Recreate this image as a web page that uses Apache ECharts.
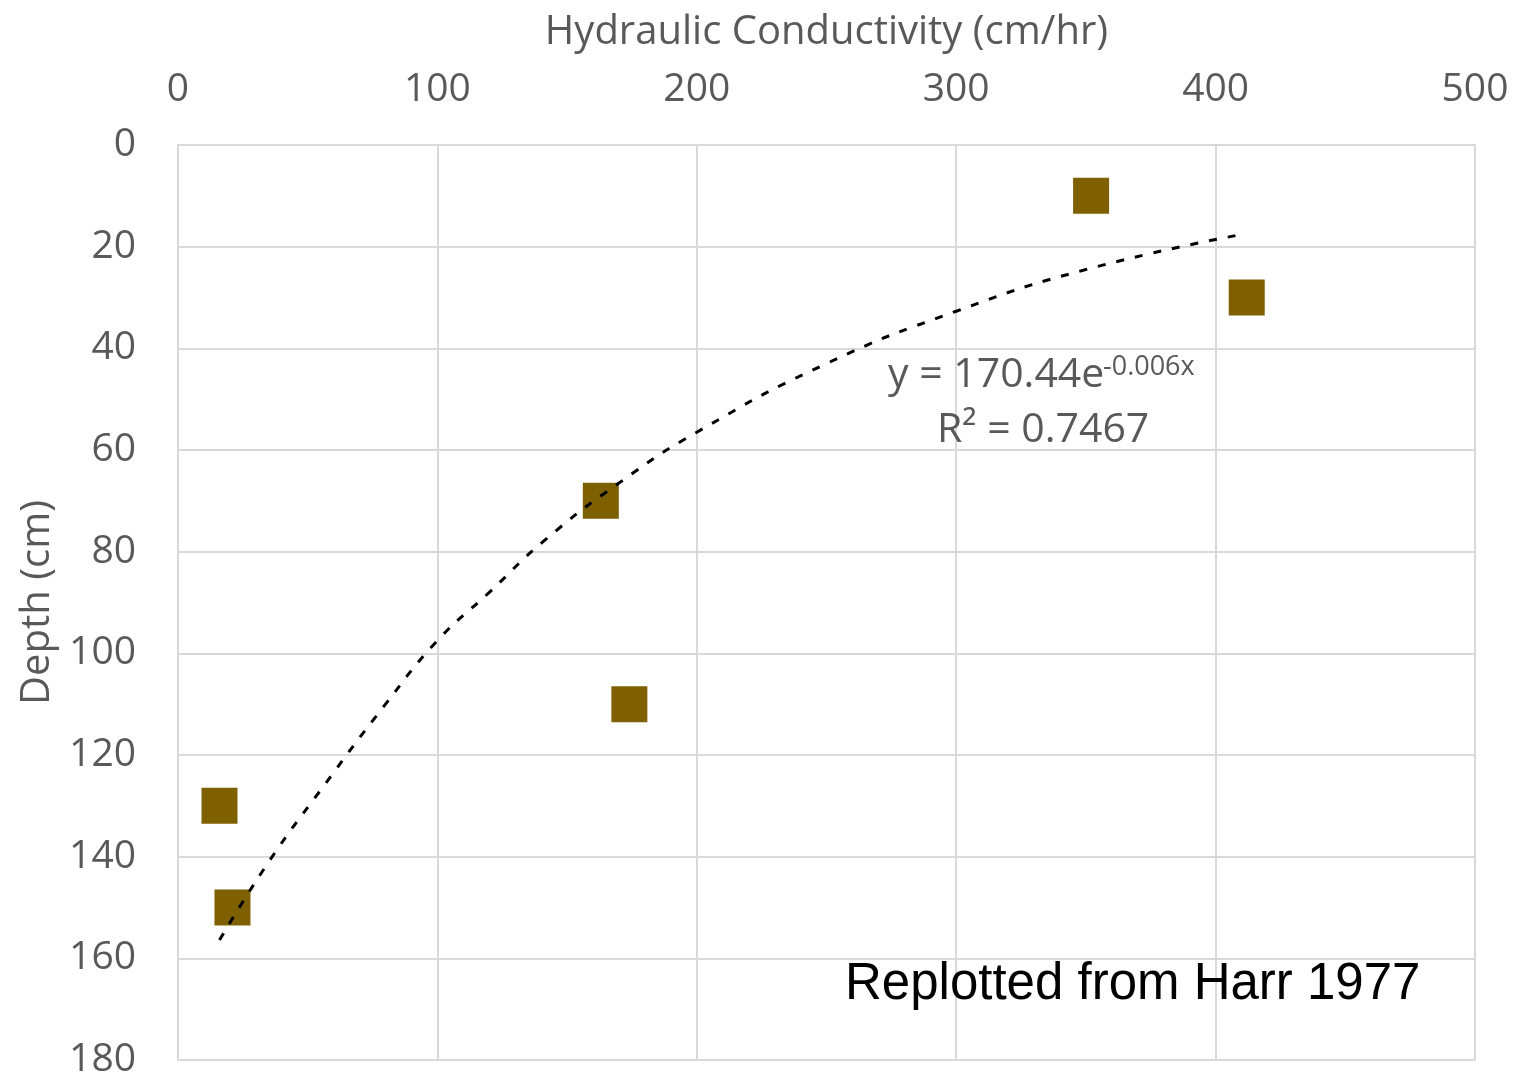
<!DOCTYPE html>
<html>
<head>
<meta charset="utf-8">
<script src="https://cdn.jsdelivr.net/npm/echarts@6/dist/echarts.min.js"></script>
<style>
  html, body { margin: 0; padding: 0; background: #fff; }
  #chart { width: 1526px; height: 1078px; }
</style>
</head>
<body>
<div id="chart"></div>
<script>
// measured points (conductivity cm/hr, depth cm)
const conductivity = [352, 412, 163, 174, 16, 21];
const depth = [10, 30, 70, 110, 130, 150];

// exponential trendline
const trendX = [16, 35, 55, 80, 100, 120, 141.5, 170, 200, 250, 300, 350, 409];
const trendY = [156.4, 141, 126.9, 110, 97.5, 88, 77.7, 66.5, 56.5, 43, 32.7, 24.5, 17.7];

const xTicks = [0, 100, 200, 300, 400, 500];
const yTicks = [0, 20, 40, 60, 80, 100, 120, 140, 160, 180];

const font = '"Open Sans", "Liberation Sans", sans-serif';
const grey = '#595959';

const chart = echarts.init(document.getElementById('chart'));
chart.setOption({
  animation: false,
  grid: { left: 178, top: 145, right: 51, bottom: 18, outerBoundsMode: 'none' },
  xAxis: {
    type: 'value',
    position: 'top',
    min: xTicks[0],
    max: xTicks[xTicks.length - 1],
    interval: 100,
    name: 'Hydraulic Conductivity (cm/hr)',
    nameLocation: 'middle',
    nameGap: 92,
    nameMoveOverlap: false,
    nameTextStyle: { fontFamily: font, fontSize: 40, color: grey },
    axisLine: { show: true, lineStyle: { color: '#d9d9d9', width: 2 } },
    axisTick: { show: false },
    axisLabel: { fontFamily: font, fontSize: 39, color: grey, margin: 36 },
    splitLine: { lineStyle: { color: '#d9d9d9', width: 2 } }
  },
  yAxis: {
    type: 'value',
    inverse: true,
    min: yTicks[0],
    max: yTicks[yTicks.length - 1],
    interval: 20,
    name: 'Depth (cm)',
    nameLocation: 'middle',
    nameGap: 120,
    nameRotate: 90,
    nameMoveOverlap: false,
    nameTextStyle: { fontFamily: font, fontSize: 40, color: grey },
    axisLine: { show: true, lineStyle: { color: '#d9d9d9', width: 2 } },
    axisTick: { show: false },
    axisLabel: { fontFamily: font, fontSize: 39, color: grey, margin: 42 },
    splitLine: { lineStyle: { color: '#d9d9d9', width: 2 } }
  },
  series: [
    {
      type: 'line',
      data: trendX.map((x, i) => [x, trendY[i]]),
      smooth: true,
      symbol: 'none',
      lineStyle: { color: '#000', width: 3, type: [8, 11] },
      z: 3
    },
    {
      type: 'scatter',
      data: conductivity.map((x, i) => [x, depth[i]]),
      symbol: 'rect',
      symbolSize: 36,
      itemStyle: { color: '#7f6000', opacity: 1 },
      z: 2
    }
  ],
  graphic: [
    {
      type: 'text',
      x: 888,
      y: 375,
      z: 10,
      style: { text: 'y = 170.44e', fontFamily: font, fontSize: 41, fill: grey, verticalAlign: 'middle' }
    },
    {
      type: 'text',
      x: 1103,
      y: 367,
      z: 10,
      style: { text: '-0.006x', fontFamily: font, fontSize: 27, fill: grey, verticalAlign: 'middle' }
    },
    {
      type: 'text',
      x: 937,
      y: 430,
      z: 10,
      style: { text: 'R² = 0.7467', fontFamily: font, fontSize: 41, fill: grey, verticalAlign: 'middle' }
    },
    {
      type: 'text',
      x: 845,
      y: 985,
      z: 10,
      style: { text: 'Replotted from Harr 1977', fontFamily: '"Liberation Sans", Arial, sans-serif', fontSize: 51, fill: '#000', verticalAlign: 'middle' }
    }
  ]
});
</script>
</body>
</html>
